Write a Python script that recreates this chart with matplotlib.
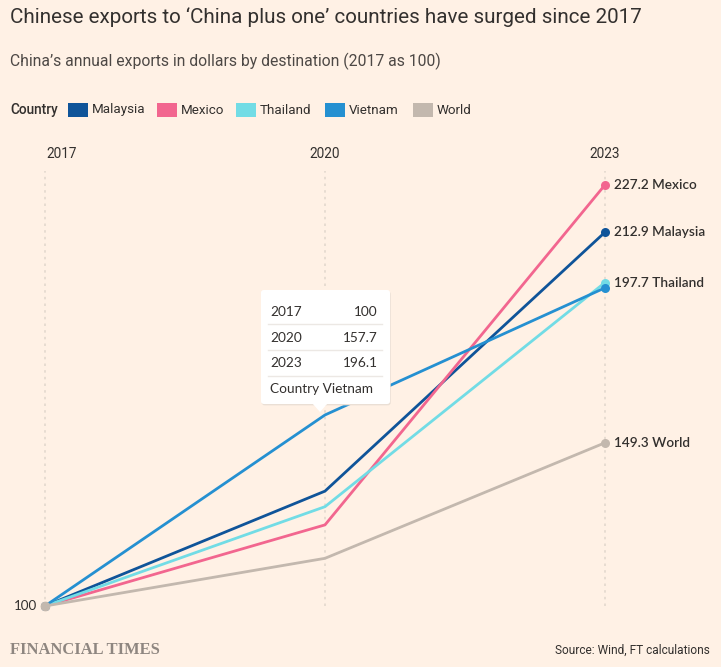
import matplotlib
matplotlib.use("Agg")
import matplotlib.pyplot as plt
from matplotlib.patches import FancyBboxPatch, Polygon, Rectangle

# data (2017 = 100)
years = [2017, 2020, 2023]
countries = ["Malaysia", "Mexico", "Thailand", "Vietnam", "World"]
malaysia = [100, 134.7, 212.9]
mexico = [100, 124.5, 227.2]
thailand = [100, 130.0, 197.7]
vietnam = [100, 157.7, 196.1]
world = [100, 114.4, 149.3]
end_labels = ["212.9 Malaysia", "227.2 Mexico", "197.7 Thailand", None, "149.3 World"]
tooltip_rows = [("2017", "100"), ("2020", "157.7"), ("2023", "196.1")]
tooltip_country = "Vietnam"

COLORS = ["#0F5499", "#F2668F", "#72DCE5", "#2590D1", "#C3B8AE"]
BG = "#FFF1E5"
INK = "#33302E"
W, H = 721, 667


def fx(x):
    return x / W


def fy(y):
    return 1 - y / H


fig = plt.figure(figsize=(W / 100, H / 100), dpi=100, facecolor=BG)
ax = fig.add_axes([fx(45), fy(606), fx(605) - fx(45), fy(165) - fy(606)])
ax.set_facecolor(BG)
ax.set_xlim(2017, 2023)
ax.set_ylim(100, 233.2)
for s in ax.spines.values():
    s.set_visible(False)
ax.set_xticks([]); ax.set_yticks([])

# dotted year guides
for yr in years:
    ax.plot([yr, yr], [100, 231.5], color="#E3D8CE", lw=1.2, ls=(0, (1.5, 2.5)), zorder=0, clip_on=False)

series = [malaysia, mexico, thailand, vietnam, world]
for i in range(len(series)):
    ax.plot(years, series[i], color=COLORS[i], lw=2.0, solid_capstyle="round", zorder=2 + i * 0.1, clip_on=False)
    ax.plot([years[0], years[-1]], [series[i][0], series[i][-1]], "o", ms=6.5, color=COLORS[i],
            mec="none", zorder=3 + i * 0.1, clip_on=False)
# world dot on top at 2017
ax.plot([years[0]], [world[0]], "o", ms=7, color=COLORS[4], mec="none", zorder=5, clip_on=False)

for i, lab in enumerate(end_labels):
    if lab:
        ax.annotate(lab, (years[-1], series[i][-1]), xytext=(6.5, 0), textcoords="offset points",
                    ha="left", va="center", fontsize=9.8, color=INK, family="Lato", fontweight="semibold")

ax.annotate("100", (years[0], 100), xytext=(-6, 0), textcoords="offset points",
            ha="right", va="center", fontsize=9.6, color=INK, family="Lato")

for yr, px in zip(years, [62, 325, 605]):
    fig.text(fx(px), fy(154), str(yr), ha="center", va="center", fontsize=9.8, color=INK, family="Roboto")

# title / subtitle
fig.text(fx(10), fy(17), "Chinese exports to \u2018China plus one\u2019 countries have surged since 2017",
         ha="left", va="center", fontsize=14.9, color=INK, family="Roboto")
fig.text(fx(10), fy(61), "China\u2019s annual exports in dollars by destination (2017 as 100)",
         ha="left", va="center", fontsize=11.35, color="#4D4845", family="Roboto")

# legend
fig.text(fx(10), fy(110), "Country", ha="left", va="center", fontsize=9.8, color=INK, family="Roboto",
         fontweight="medium")
for c, col, px in zip(countries, COLORS, [68, 157, 236, 325, 413]):
    fig.patches.append(Rectangle((fx(px), fy(117)), fx(20), 14 / H, transform=fig.transFigure,
                                 facecolor=col, edgecolor="none"))
    fig.text(fx(px + 24), fy(110), c, ha="left", va="center", fontsize=9.6, color=INK, family="Roboto")

# tooltip
x0, y0, x1, y1 = 261, 290, 390, 404
fig.patches.append(FancyBboxPatch((fx(x0) + 0.001, fy(y1) - 0.002), fx(x1 - x0), (y1 - y0) / H,
                                  boxstyle="round,pad=0,rounding_size=0.004", transform=fig.transFigure,
                                  facecolor="#EADFD5", edgecolor="none", zorder=9))
fig.patches.append(FancyBboxPatch((fx(x0), fy(y1)), fx(x1 - x0), (y1 - y0) / H,
                                  boxstyle="round,pad=0,rounding_size=0.004", transform=fig.transFigure,
                                  facecolor="white", edgecolor="none", zorder=10))
fig.patches.append(Polygon([(fx(312), fy(403)), (fx(328), fy(403)), (fx(320), fy(412))], closed=True,
                           transform=fig.transFigure, facecolor="white", edgecolor="none", zorder=10))
for k, (yr, v) in enumerate(tooltip_rows):
    yy = 312 + k * 25.5
    fig.text(fx(270), fy(yy), yr, ha="left", va="center", fontsize=9.8, color=INK, family="Lato", zorder=11)
    fig.text(fx(378), fy(yy), v, ha="right", va="center", fontsize=9.8, color=INK, family="Lato", zorder=11)
    fig.add_artist(plt.Line2D([fx(268), fx(382)], [fy(yy + 12.5)] * 2, transform=fig.transFigure,
                              color="#ECE8E4", lw=1, zorder=11))
fig.text(fx(270), fy(389), "Country " + tooltip_country, ha="left", va="center", fontsize=9.8, color=INK,
         family="Lato", zorder=11)

# footer
fig.text(fx(10), fy(650), "FINANCIAL TIMES", ha="left", va="center", fontsize=11.9, color="#8E8680",
         family="Liberation Serif", fontweight="bold")
fig.text(fx(710), fy(650), "Source: Wind, FT calculations", ha="right", va="center", fontsize=8.6,
         color=INK, family="Roboto")

fig.savefig("out.png", dpi=100, facecolor=BG)
